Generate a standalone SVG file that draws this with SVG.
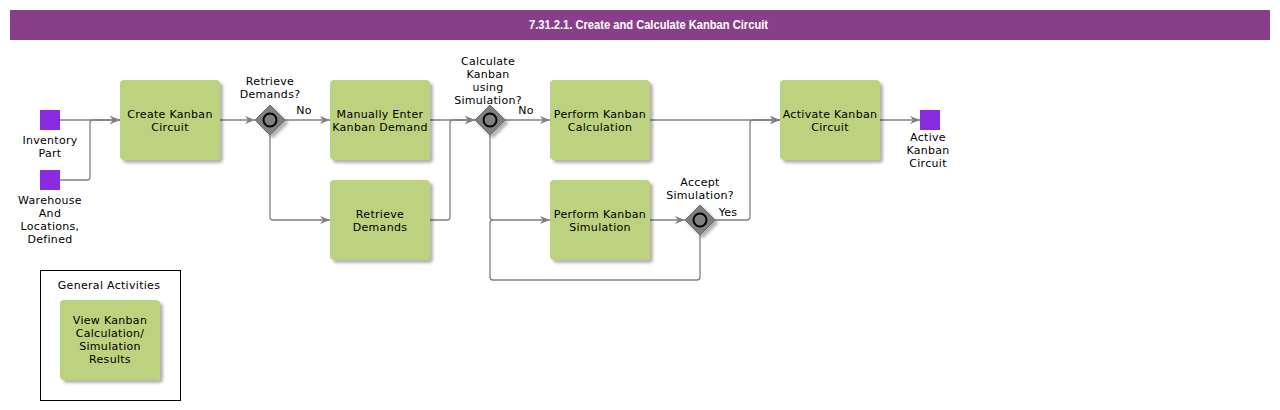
<svg xmlns="http://www.w3.org/2000/svg" width="1280" height="410" viewBox="0 0 1280 410">
<style>
.t{font-family:"DejaVu Sans",Verdana,sans-serif;font-size:11px;fill:#000;text-anchor:middle;letter-spacing:0.3px}
.box{fill:#BDD27E;filter:url(#sh)}
.sq{fill:#8A2BE2}
.c{fill:none;stroke:#808080;stroke-width:1.3}
.gw{fill:#808080;stroke:#6a6a6a;stroke-width:1;filter:url(#sh)}
.gc{fill:#808080;stroke:#000;stroke-width:2}
</style>
<defs>
<filter id="sh" x="-20%" y="-20%" width="150%" height="150%">
<feDropShadow dx="3" dy="3" stdDeviation="1.5" flood-color="#000" flood-opacity="0.3"/>
</filter>
<marker id="ar" markerWidth="10" markerHeight="8" refX="10" refY="4" orient="auto" markerUnits="userSpaceOnUse">
<path d="M0,0 L10,4 L0,8 L3,4 Z" fill="#808080"/>
</marker>
</defs>
<rect x="0" y="0" width="1280" height="410" fill="#fff"/>
<g id="title">
<rect x="10" y="10" width="1260" height="30" fill="#873F8A"/>
<text x="648.5" y="29" textLength="239" lengthAdjust="spacingAndGlyphs" style="font-family:'Liberation Sans',Arial,sans-serif;font-size:12px;font-weight:bold;fill:#fff;text-anchor:middle">7.31.2.1. Create and Calculate Kanban Circuit</text>
</g>
<g id="connectors">
<path class="c" d="M60,120 H120" marker-end="url(#ar)"/>
<path class="c" d="M60,180 H87 Q90,180 90,177 V123 Q90,120 93,120 H120" marker-end="url(#ar)"/>
<path class="c" d="M220,120 H255" marker-end="url(#ar)"/>
<path class="c" d="M285,120 H330" marker-end="url(#ar)"/>
<path class="c" d="M270,135 V217 Q270,220 273,220 H330" marker-end="url(#ar)"/>
<path class="c" d="M430,120 H475" marker-end="url(#ar)"/>
<path class="c" d="M430,220 H447 Q450,220 450,217 V123 Q450,120 453,120 H475" marker-end="url(#ar)"/>
<path class="c" d="M505,120 H550" marker-end="url(#ar)"/>
<path class="c" d="M490,135 V217 Q490,220 493,220 H550" marker-end="url(#ar)"/>
<path class="c" d="M650,120 H780" marker-end="url(#ar)"/>
<path class="c" d="M650,220 H685" marker-end="url(#ar)"/>
<path class="c" d="M715,220 H747 Q750,220 750,217 V123 Q750,120 753,120 H780" marker-end="url(#ar)"/>
<path class="c" d="M700,235 V277 Q700,280 697,280 H493 Q490,280 490,277 V223 Q490,220 493,220"/>
<path class="c" d="M880,120 H920" marker-end="url(#ar)"/>
<text class="t" x="304" y="114">No</text>
<text class="t" x="526" y="114">No</text>
<text class="t" x="728" y="216">Yes</text>
</g>
<g id="inventory-part">
<rect class="sq" x="40" y="110" width="20" height="20"/>
<text class="t" x="50" y="144">Inventory</text>
<text class="t" x="50" y="157">Part</text>
</g>
<g id="warehouse">
<rect class="sq" x="40" y="170" width="20" height="20"/>
<text class="t" x="50" y="204">Warehouse</text>
<text class="t" x="50" y="217">And</text>
<text class="t" x="50" y="230">Locations,</text>
<text class="t" x="50" y="243">Defined</text>
</g>
<g id="create-kanban">
<rect class="box" x="120" y="80" width="100" height="80" rx="4"/>
<text class="t" x="170" y="118">Create Kanban</text>
<text class="t" x="170" y="131">Circuit</text>
</g>
<g id="gw-retrieve">
<path class="gw" d="M270,105 L285,120 L270,135 L255,120 Z"/>
<circle class="gc" cx="270" cy="120" r="6.5"/>
<text class="t" x="270" y="85">Retrieve</text>
<text class="t" x="270" y="98">Demands?</text>
</g>
<g id="manually-enter">
<rect class="box" x="330" y="80" width="100" height="80" rx="4"/>
<text class="t" x="380" y="118">Manually Enter</text>
<text class="t" x="380" y="131">Kanban Demand</text>
</g>
<g id="retrieve-demands">
<rect class="box" x="330" y="180" width="100" height="80" rx="4"/>
<text class="t" x="380" y="218">Retrieve</text>
<text class="t" x="380" y="231">Demands</text>
</g>
<g id="gw-calc">
<path class="gw" d="M490,105 L505,120 L490,135 L475,120 Z"/>
<circle class="gc" cx="490" cy="120" r="6.5"/>
<text class="t" x="488" y="65">Calculate</text>
<text class="t" x="488" y="78">Kanban</text>
<text class="t" x="488" y="91">using</text>
<text class="t" x="488" y="104">Simulation?</text>
</g>
<g id="perform-calc">
<rect class="box" x="550" y="80" width="100" height="80" rx="4"/>
<text class="t" x="600" y="118">Perform Kanban</text>
<text class="t" x="600" y="131">Calculation</text>
</g>
<g id="perform-sim">
<rect class="box" x="550" y="180" width="100" height="80" rx="4"/>
<text class="t" x="600" y="218">Perform Kanban</text>
<text class="t" x="600" y="231">Simulation</text>
</g>
<g id="gw-accept">
<path class="gw" d="M700,205 L715,220 L700,235 L685,220 Z"/>
<circle class="gc" cx="700" cy="220" r="6.5"/>
<text class="t" x="700" y="186">Accept</text>
<text class="t" x="700" y="199">Simulation?</text>
</g>
<g id="activate">
<rect class="box" x="780" y="80" width="100" height="80" rx="4"/>
<text class="t" x="830" y="118">Activate Kanban</text>
<text class="t" x="830" y="131">Circuit</text>
</g>
<g id="active-kanban">
<rect class="sq" x="920" y="110" width="20" height="20"/>
<text class="t" x="928" y="141">Active</text>
<text class="t" x="928" y="154">Kanban</text>
<text class="t" x="928" y="167">Circuit</text>
</g>
<g id="general-activities">
<rect x="40.5" y="270.5" width="140" height="130" fill="none" stroke="#000" stroke-width="1"/>
<text class="t" x="109" y="289">General Activities</text>
</g>
<g id="view-kanban">
<rect class="box" x="60" y="300" width="100" height="80" rx="4"/>
<text class="t" x="110" y="324">View Kanban</text>
<text class="t" x="110" y="337">Calculation/</text>
<text class="t" x="110" y="350">Simulation</text>
<text class="t" x="110" y="363">Results</text>
</g>
</svg>
